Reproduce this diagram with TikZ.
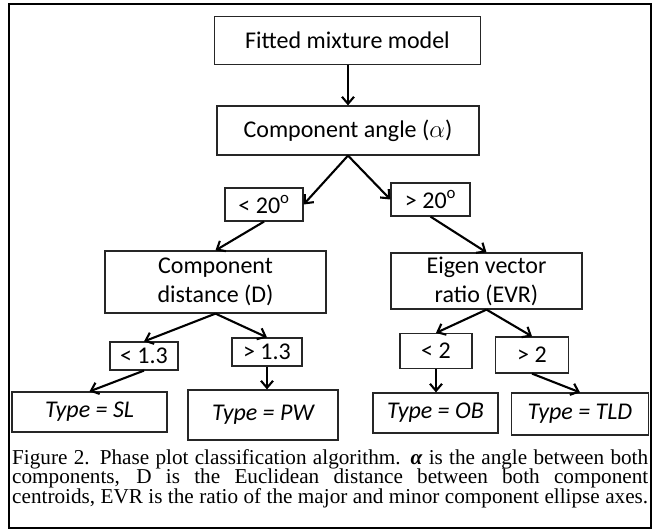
\documentclass[tikz,border=0pt]{standalone}
\usepackage{fontspec}
\setmainfont{Liberation Serif}
\newfontfamily\boxfont{Carlito}
\usetikzlibrary{arrows.meta}
\begin{document}
\begin{tikzpicture}[x=1pt,y=-1pt,
  box/.style={draw=black!85, line width=1.2pt, inner sep=0pt, align=center,
    font=\boxfont\fontsize{24}{29}\selectfont},
  leaf/.style={box, font=\boxfont\itshape\fontsize{24}{29}\selectfont},
  arr/.style={draw=black, line width=2.1pt, -{Straight Barb[length=7pt,width=12pt]}},
  frame/.style={draw=black, line width=2pt}]
\useasboundingbox (0,0) rectangle (662,531);
\draw[frame] (9,4) rectangle (651,528);
% level 0-1
\node[box, minimum width=266pt, minimum height=48pt] (fit) at (347.5,40.5) {Fitted mixture model};
\node[box, minimum width=262pt, minimum height=49pt] (angle) at (348,130.5) {Component angle ($\alpha$)};
% angle conditions
\node[box, minimum width=78pt, minimum height=33pt] (lt20) at (264,204.5) {< 20\textsuperscript{o}};
\node[box, minimum width=79pt, minimum height=33pt] (gt20) at (430.5,199.5) {> 20\textsuperscript{o}};
% second level
\node[box, minimum width=221pt, minimum height=62pt] (dist) at (215.5,282) {Component\\distance (D)};
\node[box, minimum width=191pt, minimum height=56pt] (evr) at (486.5,281) {Eigen vector\\ratio (EVR)};
% thresholds
\node[box, minimum width=68pt, minimum height=28pt] (lt13) at (144,356) {< 1.3};
\node[box, minimum width=70pt, minimum height=28pt] (gt13) at (267,352) {> 1.3};
\node[box, minimum width=72pt, minimum height=35pt] (lt2) at (436,351) {< 2};
\node[box, minimum width=73pt, minimum height=36pt] (gt2) at (532,355) {> 2};
% leaves
\node[leaf, minimum width=155pt, minimum height=40pt] (sl) at (89.5,412) {Type = SL};
\node[leaf, minimum width=150pt, minimum height=50pt] (pw) at (263,415) {Type = PW};
\node[leaf, minimum width=125pt, minimum height=40pt] (ob) at (435.5,413) {Type = OB};
\node[leaf, minimum width=137pt, minimum height=42pt] (tld) at (580,414) {Type = TLD};
% connectors
\draw[arr] (fit.south -| angle.north) -- (angle.north);
\draw[arr] (angle.south) -- (lt20.east);
\draw[arr] (angle.south) -- (gt20.west);
\draw[arr] (lt20.south) -- (dist.north);
\draw[arr] (gt20.south) -- (evr.north);
\draw[arr] (dist.south) -- (lt13.north);
\draw[arr] (dist.south) -- (gt13.north);
\draw[arr] (evr.south) -- (lt2.north);
\draw[arr] (evr.south) -- (gt2.north);
\draw[arr] (lt13.south) -- (sl.north);
\draw[arr] (gt13.south) -- (gt13.south |- pw.north);
\draw[arr] (lt2.south) -- (lt2.south |- ob.north);
\draw[arr] (gt2.south) -- (tld.north);
% caption
\node[anchor=north west, inner sep=0pt, align=left,
  font=\fontsize{21.2}{19.5}\selectfont] (cap) at (12,449)
  {\makebox[636pt][s]{Figure 2. Phase plot classification algorithm. {\bfseries\itshape α} is the angle between both}\\
   \makebox[636pt][s]{components, D is the Euclidean distance between both component}\\
   \makebox[636pt][s]{centroids, EVR is the ratio of the major and minor component ellipse axes.}};
\end{tikzpicture}
\end{document}
